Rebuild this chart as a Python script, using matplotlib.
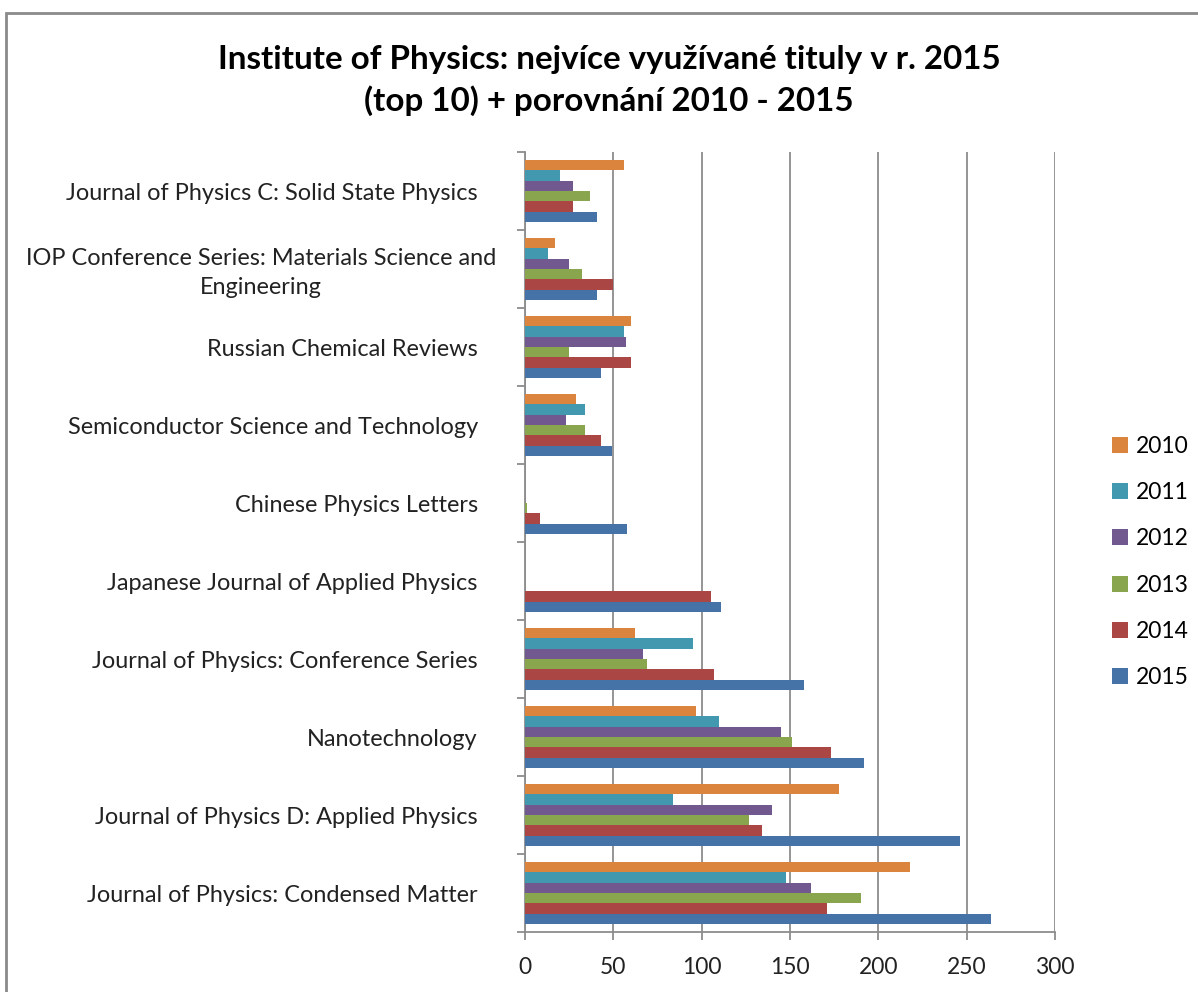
import matplotlib
matplotlib.use("Agg")
import matplotlib.pyplot as plt
from matplotlib.patches import Rectangle
from matplotlib.transforms import ScaledTranslation
import numpy as np

categories = [
    "Journal of Physics: Condensed Matter",
    "Journal of Physics D: Applied Physics",
    "Nanotechnology",
    "Journal of Physics: Conference Series",
    "Japanese Journal of Applied Physics",
    "Chinese Physics Letters",
    "Semiconductor Science and Technology",
    "Russian Chemical Reviews",
    "IOP Conference Series: Materials Science and\nEngineering",
    "Journal of Physics C: Solid State Physics",
]
years = ["2015", "2014", "2013", "2012", "2011", "2010"]
v2015 = [264, 246, 192, 158, 111, 58, 49, 43, 41, 41]
v2014 = [171, 134, 173, 107, 105, 8.5, 43, 60, 50, 27]
v2013 = [190, 127, 151, 69, 0, 1.2, 34, 25, 32, 37]
v2012 = [162, 140, 145, 67, 0, 0, 23, 57, 25, 27]
v2011 = [148, 84, 110, 95, 0, 0, 34, 56, 13, 20]
v2010 = [218, 178, 97, 62, 0, 0, 29, 60, 17, 56]
series = [v2015, v2014, v2013, v2012, v2011, v2010]
colors = ["#4572A7", "#AA4643", "#89A54E", "#71588F", "#4198AF", "#DB843D"]
xticks = [0, 50, 100, 150, 200, 250, 300]

FONT = "Lato"
W, H = 1198, 992
fig = plt.figure(figsize=(W / 100, H / 100), dpi=100)
fig.patch.set_facecolor("white")

# chart frame
fig.add_artist(Rectangle((6 / W, -0.01), 1.2, (992 - 13) / H + 0.01, transform=fig.transFigure,
                         fill=False, edgecolor="#8a8a8a", linewidth=2.0))

ax = fig.add_axes([525 / W, 60 / H, (1055 - 525) / W, (932 - 152) / H])
n = len(categories)
y = np.arange(n)
group = 0.8
bh = group / len(series)
for i, (vals, col, yr) in enumerate(zip(series, colors, years)):
    off = -group / 2 + bh * (i + 0.5)
    ax.barh(y + off, vals, height=bh, color=col, label=yr, edgecolor="none", zorder=3)

ax.set_xlim(0, 300)
ax.set_ylim(-0.5, n - 0.5)
ax.set_xticks(xticks)
ax.set_xticklabels([str(t) for t in xticks], fontsize=16.5, family=FONT, color="#222222")
ax.grid(axis="x", color="#8c8c8c", linewidth=1.3, zorder=0)
ax.set_yticks(y)
ylabels = ax.set_yticklabels(categories, fontsize=16.9, family=FONT, color="#222222",
                             multialignment="center", linespacing=1.5)
ax.set_yticks(np.arange(-0.5, n, 1.0), minor=True)
ax.tick_params(axis="y", which="major", length=0, pad=34)
ax.tick_params(axis="y", which="minor", length=6, width=1.3, color="#8c8c8c")
ax.tick_params(axis="x", length=6, width=1.3, color="#8c8c8c", pad=12)
for s in ["top", "right"]:
    ax.spines[s].set_visible(False)
for s in ["left", "bottom"]:
    ax.spines[s].set_color("#8c8c8c")
    ax.spines[s].set_linewidth(1.3)

# the wrapped label sits a little further right in the reference
for lab in ax.get_yticklabels():
    if "\n" in lab.get_text():
        lab.set_transform(lab.get_transform() + ScaledTranslation(18 / 100, 2 / 100, fig.dpi_scale_trans))

handles, labels = ax.get_legend_handles_labels()
leg = fig.legend(handles[::-1], labels[::-1], loc="center left",
                 bbox_to_anchor=(1112 / W, (992 - 562) / H), frameon=False,
                 prop={"family": FONT, "size": 16.5}, handlelength=0.7, handleheight=0.7,
                 handletextpad=0.35, labelspacing=1.1, borderpad=0, borderaxespad=0)

fig.text(609 / W, (992 - 60) / H, "Institute of Physics: nejvíce využívané tituly v r. 2015",
         ha="center", va="center", fontsize=23.9, fontweight="bold", family=FONT)
fig.text(609 / W, (992 - 101) / H, "(top 10) + porovnání 2010 - 2015",
         ha="center", va="center", fontsize=23.9, fontweight="bold", family=FONT)

fig.savefig("out.png", dpi=100, facecolor="white")
